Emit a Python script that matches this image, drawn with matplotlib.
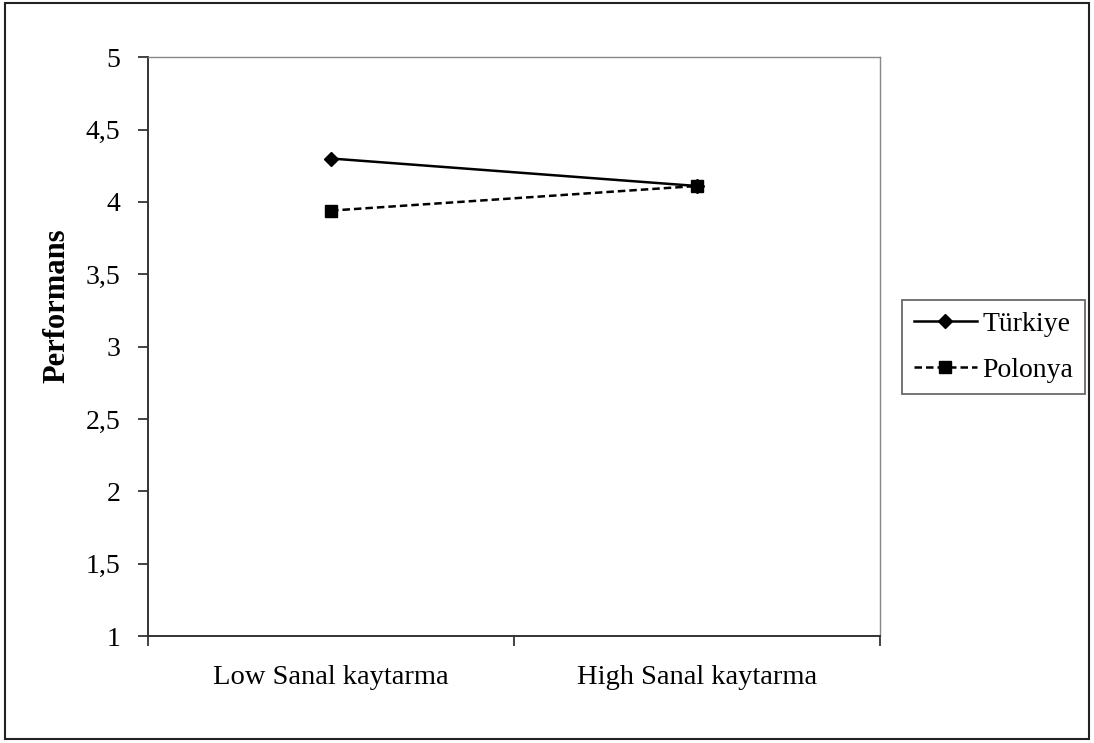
import matplotlib.pyplot as plt
from matplotlib.patches import Rectangle

plt.rcParams['font.family'] = ['Liberation Serif', 'DejaVu Serif']

# Kategoriler og verdier
kategorier = ["Low Sanal kaytarma", "High Sanal kaytarma"]
turkiye = [4.30, 4.11]
polonya = [3.94, 4.11]
y_ticks = [1, 1.5, 2, 2.5, 3, 3.5, 4, 4.5, 5]
y_etiketter = ["1", "1,5", "2", "2,5", "3", "3,5", "4", "4,5", "5"]

fig = plt.figure(figsize=(10.94, 7.43), dpi=100)
ax = fig.add_axes([0.1353, 0.144, 0.669, 0.779])

x = range(len(kategorier))
ax.plot(x, turkiye, color="black", lw=1.8, marker="D", markersize=7, label="Türkiye")
ax.plot(x, polonya, color="black", lw=1.8, ls=(0, (3, 1.6)), marker="s", markersize=8,
        label="Polonya")

ax.set_xlim(-0.5, 1.5)
ax.set_ylim(1, 5)
ax.set_yticks(y_ticks)
ax.set_yticklabels(y_etiketter, fontsize=20)
ax.set_xticks([-0.5, 0.5, 1.5])
ax.set_xticklabels([])
ax.set_xticks(list(x), minor=True)
ax.set_xticklabels(kategorier, minor=True, fontsize=20.5)
ax.tick_params(axis="x", which="minor", length=0, pad=21)
ax.tick_params(axis="x", which="major", direction="out", length=7, width=1.2, color="#222222")
ax.tick_params(axis="y", direction="out", length=7, width=1.2, color="#222222", pad=13)

for side in ["left", "bottom"]:
    ax.spines[side].set_color("#333333")
    ax.spines[side].set_linewidth(1.4)
for side in ["top", "right"]:
    ax.spines[side].set_color("#888888")
    ax.spines[side].set_linewidth(1.0)

ax.set_ylabel("Performans", fontsize=22, fontweight="bold")
ax.yaxis.set_label_coords(-0.104, 0.57)

leg = ax.legend(loc="center left", bbox_to_anchor=(1.030, 0.499), fontsize=20,
                frameon=True, fancybox=False, edgecolor="#444444", handlelength=2.27,
                handletextpad=0.2, borderpad=0.42, labelspacing=0.72, borderaxespad=0)
leg.get_frame().set_linewidth(1.3)

# Ramme rundt hele figuren
fig.patches.append(Rectangle((0.005, 0.006), 0.99, 0.99, transform=fig.transFigure,
                             fill=False, edgecolor="#222222", lw=1.5))

fig.savefig("out.png", dpi=100)
